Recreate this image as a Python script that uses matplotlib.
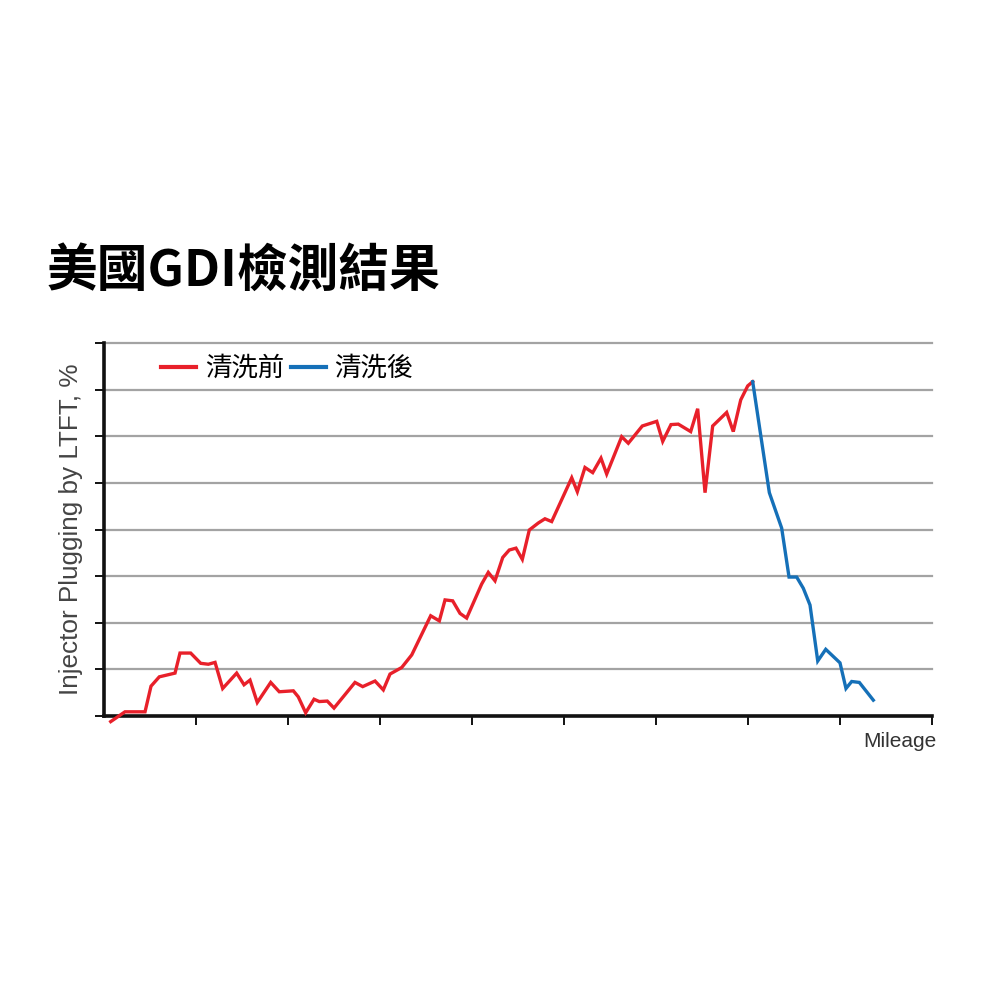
import matplotlib.pyplot as plt

plt.rcParams["font.family"] = ["Liberation Sans", "DejaVu Sans"]

# Readings in tick units (x) and gridline units (y)
before_x = [0.073, 0.228, 0.446, 0.511, 0.601, 0.772, 0.826, 0.942, 1.051, 1.134,
            1.207, 1.290, 1.442, 1.522, 1.587, 1.666, 1.812, 1.905, 2.058, 2.112,
            2.192, 2.283, 2.340, 2.427, 2.500, 2.728, 2.812, 2.946, 3.036, 3.109,
            3.236, 3.345, 3.551, 3.645, 3.707, 3.790, 3.870, 3.942, 4.105, 4.177,
            4.250, 4.334, 4.405, 4.478, 4.547, 4.623, 4.721, 4.793, 4.866, 5.084,
            5.145, 5.228, 5.312, 5.402, 5.464, 5.627, 5.699, 5.851, 6.008, 6.073,
            6.163, 6.242, 6.377, 6.453, 6.533, 6.616, 6.768, 6.840, 6.921, 6.997,
            7.051]
before_y = [-0.12, 0.09, 0.09, 0.64, 0.84, 0.92, 1.35, 1.35, 1.13, 1.11,
            1.15, 0.59, 0.92, 0.67, 0.77, 0.29, 0.72, 0.52, 0.54, 0.41,
            0.07, 0.36, 0.31, 0.32, 0.17, 0.72, 0.63, 0.75, 0.56, 0.90,
            1.04, 1.31, 2.15, 2.04, 2.49, 2.47, 2.20, 2.10, 2.83, 3.08,
            2.90, 3.40, 3.56, 3.60, 3.36, 3.99, 4.14, 4.23, 4.17, 5.11,
            4.81, 5.33, 5.22, 5.53, 5.19, 5.99, 5.85, 6.22, 6.32, 5.89,
            6.25, 6.26, 6.10, 6.59, 4.79, 6.22, 6.51, 6.10, 6.78, 7.08,
            7.17]
after_x = [7.051, 7.232, 7.366, 7.446, 7.529, 7.601, 7.674, 7.758, 7.845, 8.000,
           8.065, 8.127, 8.210, 8.362]
after_y = [7.17, 4.79, 4.03, 2.98, 2.98, 2.74, 2.38, 1.18, 1.43, 1.14,
           0.59, 0.74, 0.72, 0.34]

labels = ["清洗前", "清洗後"]
title = "美國GDI檢測結果"

fig = plt.figure(figsize=(10, 10), dpi=100)
ax = fig.add_axes([0.104, 0.284, 0.828, 0.373])

ax.plot(before_x, before_y, color="#e8202a", lw=2.4, clip_on=False,
        solid_joinstyle="miter", label=labels[0], zorder=3)
ax.plot(after_x, after_y, color="#1570b8", lw=2.4, clip_on=False,
        solid_joinstyle="miter", label=labels[1], zorder=3)

ax.set_xlim(0, 9)
ax.set_ylim(0, 8)
ax.set_xticks(range(1, 10))
ax.set_yticks(range(0, 9))
ax.set_xticklabels([])
ax.set_yticklabels([])
ax.yaxis.grid(True, color="#a3a3a3", lw=1.6)
for gl in ax.get_ygridlines():
    gl.set_clip_on(False)
ax.set_axisbelow(True)

for side in ["top", "right"]:
    ax.spines[side].set_visible(False)
for side in ["left", "bottom"]:
    ax.spines[side].set_linewidth(2.6)
    ax.spines[side].set_color("#111111")
ax.tick_params(axis="x", direction="out", length=6.5, width=1.4, color="#111111")
ax.tick_params(axis="y", direction="out", length=6.5, width=1.4, color="#111111")

ax.set_ylabel("Injector Plugging by LTFT, %", fontsize=18.8, color="#444444")
ax.yaxis.set_label_coords(-0.0255, 0.5)
ax.text(1.006, -0.0697, "Mileage", transform=ax.transAxes, ha="right",
        va="center", fontsize=15, color="#333333")

leg = ax.legend(loc="upper left", bbox_to_anchor=(0.05, 1.01), ncol=2,
                frameon=False, handlelength=1.33, handletextpad=0.33,
                columnspacing=0.25, borderaxespad=0.2,
                prop={"family": ["Noto Sans CJK TC", "DejaVu Sans"], "size": 19})
for line in leg.get_lines():
    line.set_linewidth(3)

fig.text(0.047, 0.729, title, fontsize=36.5, fontweight="bold", va="center",
         ha="left", family=["Noto Sans CJK TC", "DejaVu Sans"])

fig.savefig("out.png", dpi=100, facecolor="white")
